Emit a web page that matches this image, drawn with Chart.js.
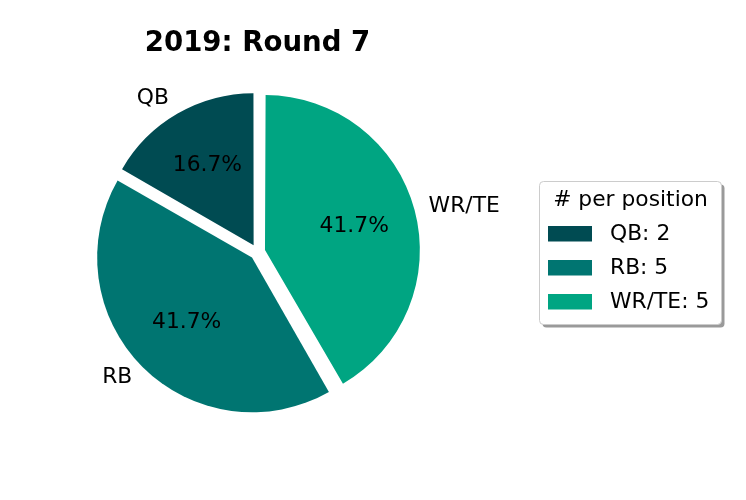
<!DOCTYPE html>
<html>
<head>
<meta charset="utf-8">
<script src="https://cdn.jsdelivr.net/npm/chart.js@4/dist/chart.umd.min.js"></script>
<style>
  html, body { margin: 0; padding: 0; background: #fff; }
  #wrap { width: 746px; height: 500px; }
</style>
</head>
<body>
<div id="wrap"><canvas id="pieChart" width="746" height="500"></canvas></div>
<script>
var positions = ['QB', 'RB', 'WR/TE'];
var counts = [2, 5, 5];
var colors = ['#004b52', '#007571', '#00a582'];
var chartTitle = '2019: Round 7';
var legendTitle = '# per position';

// chart.js draws clockwise, the original goes counter-clockwise from the top
var order = [2, 1, 0];
var total = counts.reduce(function (a, b) { return a + b; }, 0);

var labelsPlugin = {
    id: 'pieLabels',
    afterDatasetsDraw: function (chart) {
        var ctx = chart.ctx;
        var meta = chart.getDatasetMeta(0);
        ctx.save();
        ctx.fillStyle = '#000';
        ctx.textBaseline = 'middle';
        ctx.font = '21.8px "DejaVu Sans"';
        meta.data.forEach(function (arc, i) {
            var p = arc.getProps(['x', 'y', 'startAngle', 'endAngle', 'outerRadius']);
            var mid = (p.startAngle + p.endAngle) / 2;
            var t = (arc.options.offset || 0) / 4;
            var r = p.outerRadius + 3;
            var cx = Math.cos(mid), cy = Math.sin(mid);
            // name outside
            ctx.textAlign = cx < 0 ? 'right' : 'left';
            ctx.fillText(chart.data.labels[i], p.x + cx * (t + 1.1 * r), p.y + cy * (t + 1.1 * r));
            // percentage inside
            var v = chart.data.datasets[0].data[i];
            ctx.textAlign = 'center';
            ctx.fillText((v / total * 100).toFixed(1) + '%', p.x + cx * (t + 0.6 * r), p.y + cy * (t + 0.6 * r));
        });

        // title over the pie
        var area = chart.chartArea;
        ctx.font = 'bold 27.6px "DejaVu Sans"';
        ctx.textAlign = 'center';
        ctx.fillText(chartTitle, (area.left + area.right) / 2, 44);

        // legend with frame and shadow
        var bx = 539.5, by = 181.5, bw = 182, bh = 143;
        ctx.fillStyle = '#9a9a9a';
        ctx.beginPath();
        ctx.roundRect(bx + 3, by + 3, bw, bh, 4);
        ctx.fill();
        ctx.fillStyle = '#fff';
        ctx.strokeStyle = '#cccccc';
        ctx.lineWidth = 1;
        ctx.beginPath();
        ctx.roundRect(bx, by, bw, bh, 4);
        ctx.fill();
        ctx.stroke();

        ctx.fillStyle = '#000';
        ctx.font = '21.8px "DejaVu Sans"';
        ctx.textAlign = 'center';
        ctx.fillText(legendTitle, bx + bw / 2, 200);
        ctx.textAlign = 'left';
        positions.forEach(function (name, k) {
            var y = 234 + k * 34;
            ctx.fillStyle = colors[k];
            ctx.fillRect(548, y - 8, 44, 15.5);
            ctx.fillStyle = '#000';
            ctx.fillText(name + ': ' + counts[k], 610, y);
        });
        ctx.restore();
    }
};

var ctx = document.getElementById('pieChart').getContext('2d');

var pieChart = new Chart(ctx, {
    type: 'pie',
    data: {
        labels: order.map(function (k) { return positions[k]; }),
        datasets: [{
            data: order.map(function (k) { return counts[k]; }),
            backgroundColor: order.map(function (k) { return colors[k]; }),
            borderWidth: 0,
            offset: 31,
            hoverOffset: 31
        }]
    },
    options: {
        responsive: false,
        animation: false,
        radius: 151,
        layout: {
            padding: { left: 0, right: 231, top: 4, bottom: 0 }
        },
        plugins: {
            legend: { display: false },
            title: { display: false },
            tooltip: { enabled: false }
        }
    },
    plugins: [labelsPlugin]
});
</script>
</body>
</html>
